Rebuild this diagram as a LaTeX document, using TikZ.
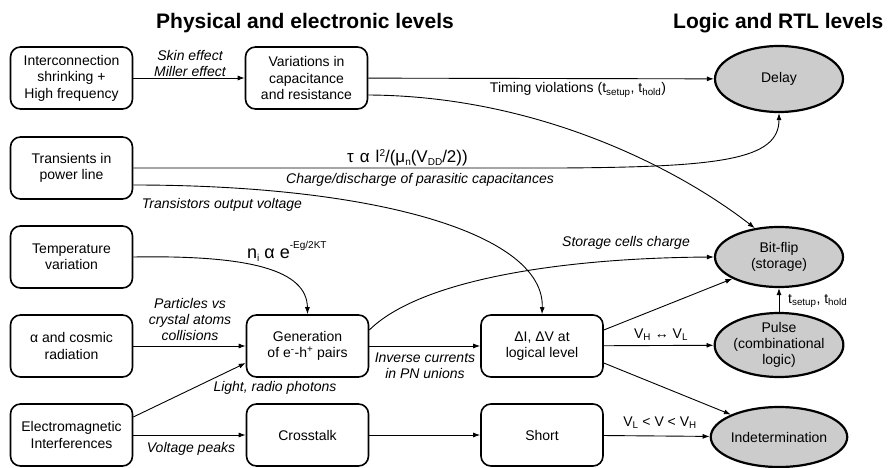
\documentclass[tikz,border=0pt]{standalone}
\usepackage{fontspec}
\setmainfont{Liberation Sans}
\usetikzlibrary{arrows.meta,shapes.geometric}
% small raised / lowered text for the formulas
\newcommand{\hiscr}[2][0.62em]{\raisebox{#1}{\fontsize{10}{10}\selectfont #2}}
\newcommand{\loscr}[1]{\raisebox{-0.22em}{\fontsize{10}{10}\selectfont #1}}
\begin{document}
\begin{tikzpicture}[x=1pt,y=-1pt,
  box/.style={draw, line width=1.6pt, rounded corners=10pt, minimum width=122pt,
    minimum height=62pt, align=center, inner sep=2pt,
    font=\fontsize{14}{16.5}\selectfont},
  level/.style={draw, line width=2.2pt, ellipse, fill=black!20, minimum width=128pt,
    minimum height=62pt, inner sep=0pt, align=center,
    font=\fontsize{14}{16}\selectfont},
  arr/.style={-{Latex[length=7pt,width=5pt]}, line width=0.9pt},
  lbl/.style={font=\fontsize{14}{16}\selectfont\itshape, align=center, inner sep=0pt},
  plain/.style={font=\fontsize{14}{16}\selectfont, align=center, inner sep=0pt},
  formula/.style={font=\fontsize{17}{20}\selectfont, inner sep=0pt},
  head/.style={font=\fontsize{21}{24}\selectfont\bfseries, inner sep=0pt}
]
\useasboundingbox (0,0) rectangle (888,468);

% column headings
\node[head, anchor=base west] (hphys) at (156,29) {Physical and electronic levels};
\node[head, anchor=base west] (hlogic) at (673,29) {Logic and RTL levels};

% causes (left column)
\node[box] (inter) at (71.5,78)  {Interconnection\\shrinking +\\High frequency};
\node[box] (trans) at (71.5,168) {Transients in\\power line};
\node[box] (temp)  at (71.5,257) {Temperature\\variation};
\node[box] (alpha) at (71.5,346) {α and cosmic\\radiation};
\node[box] (emi)   at (71.5,435) {Electromagnetic\\Interferences};

% intermediate effects
\node[box] (var)   at (306.5,78)  {Variations in\\capacitance\\and resistance};
\node[box] (gen)   at (307.5,346) {Generation\\of e\textsuperscript{-}-h\textsuperscript{+} pairs};
\node[box] (cross) at (307.5,435) {Crosstalk};
\node[box] (dlv)   at (542,346)   {ΔI, ΔV at\\logical level};
\node[box] (short) at (542,435)   {Short};

% logic-level consequences
\node[level, minimum height=66pt] (delay) at (779,79) {Delay};
\node[level, minimum height=60pt] (flip)  at (779,257) {Bit-flip\\(storage)};
\node[level, minimum height=64pt] (pulse) at (779,345) {Pulse\\(combinational\\logic)};
\node[level, minimum height=60pt] (indet) at (779,437) {Indetermination};

% connectors
\draw[arr] (inter) -- (var);
\node[lbl] (lskin) at (190,63) {Skin effect\\Miller effect};

\draw[arr] (var) -- (delay);
\draw[arr] ([yshift=-17pt]var.east) .. controls (540,96) and (680,170) .. (flip.130);
\node[plain] (ltiming) at (578,90) {Timing violations (t\textsubscript{setup}, t\textsubscript{hold})};

\draw[arr] (trans.east) -- (560,168) .. controls (720,167) and (779,160) .. (delay.south);
\node[formula, anchor=base west] (ltau) at (347,162)
  {τ\hspace{6pt}α\hspace{6pt}l\hiscr[0.3em]{2}/(μ\loscr{n}(V\loscr{DD}/2))};
\node[lbl] (lcharge) at (420,180) {Charge/discharge of parasitic capacitances};

\draw[arr] ([yshift=-17pt]trans.east) .. controls (380,185) and (545,235) .. (dlv.north);
\node[lbl] (ltrans) at (222,205) {Transistors output voltage};

\draw[arr] (temp.east) .. controls (250,255) and (307,270) .. (gen.north);
\node[formula, font=\fontsize{18}{20}\selectfont, anchor=base west] (lni) at (247,258)
  {n\loscr{i}\hspace{5pt}α\hspace{5pt}e\hiscr[0.55em]{-Eg/2KT}};

\draw[arr] (alpha) -- (gen);
\node[lbl] (lpart) at (190,319) {Particles vs\\crystal atoms\\collisions};

\draw[arr] ([yshift=18pt]emi.east) -- ([yshift=-17pt]gen.west);
\node[lbl] (llight) at (275,388) {Light, radio photons};

\draw[arr] (emi) -- (cross);
\node[lbl] (lpeak) at (191,449) {Voltage peaks};

\draw[arr] (gen) -- (dlv);
\node[lbl] (linv) at (425,366) {Inverse currents\\in PN unions};

\draw[arr] ([yshift=16pt]gen.east) .. controls (420,280) and (560,258) .. (flip.west);
\node[lbl] (lstore) at (626,243) {Storage cells charge};

\draw[arr] ([yshift=16pt]dlv.east) -- (flip.205);
\draw[arr] (dlv) -- (pulse);
\node[plain] (lvhl) at (661,335) {V\textsubscript{H} ↔ V\textsubscript{L}};
\draw[arr] ([yshift=-17pt]dlv.east) -- (indet.155);

\draw[arr] (cross) -- (short);
\draw[arr] (short) -- (indet);
\node[plain] (lvv) at (660,423) {V\textsubscript{L} < V < V\textsubscript{H}};

\draw[arr] (pulse) -- (flip);
\node[plain, anchor=west] (lts) at (788,301) {t\textsubscript{setup}, t\textsubscript{hold}};
\end{tikzpicture}
\end{document}
